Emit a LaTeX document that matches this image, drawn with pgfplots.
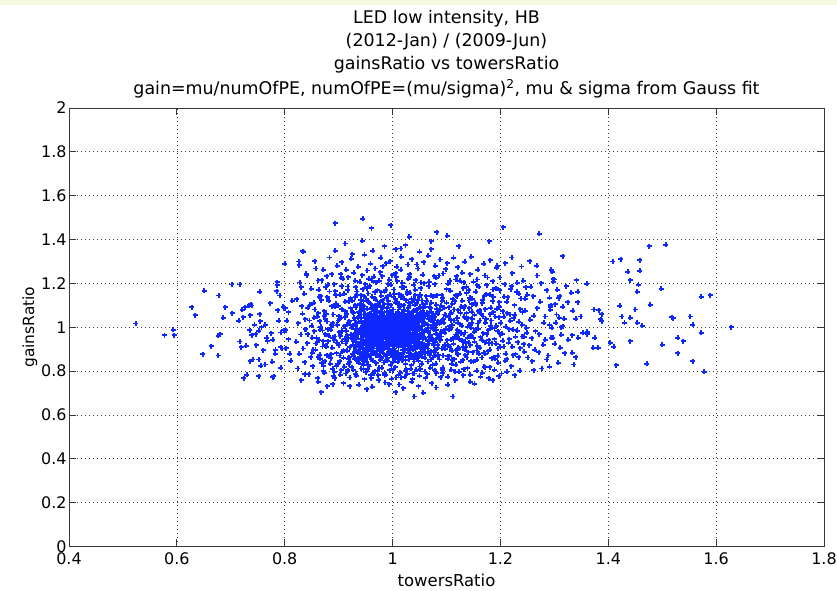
\documentclass[border=0pt]{standalone}
\usepackage{pgfplots}
\pgfplotsset{compat=1.18}
\usepackage{pgfplotstable}
\usepackage{fontspec}
\setmainfont{DejaVu Sans}
\definecolor{mblue}{RGB}{14,40,255}
\definecolor{topstrip}{RGB}{247,250,222}
\definecolor{axgray}{RGB}{55,55,55}

\pgfplotstableread{
x y
0.941 0.973
0.942 1.041
0.943 0.912
0.944 1.006
0.945 0.958
0.946 1.072
0.947 0.931
0.948 0.994
0.949 1.028
0.950 0.906
0.951 0.981
0.952 1.055
0.953 0.947
0.954 1.013
0.955 0.922
0.956 0.969
0.957 1.037
0.958 0.898
0.959 1.002
0.960 0.954
0.961 1.081
0.962 0.936
0.963 0.988
0.964 1.021
0.965 0.915
0.966 0.977
0.967 1.046
0.968 0.941
0.969 1.009
0.970 0.962
0.971 0.903
0.972 1.064
0.973 0.985
0.974 0.928
0.975 1.031
0.976 0.951
0.977 0.996
0.978 1.074
0.979 0.919
0.980 0.967
0.981 1.018
0.982 0.944
0.983 0.991
0.984 1.052
0.985 0.909
0.986 0.972
0.987 1.026
0.988 0.935
0.989 1.003
0.990 0.958
0.991 1.069
0.992 0.926
0.993 0.983
0.994 1.039
0.995 0.948
0.996 1.011
0.997 0.896
0.998 0.975
0.999 1.058
1.000 0.939
1.001 0.993
1.002 1.024
1.003 0.917
1.004 0.966
1.005 1.047
1.006 0.954
1.007 1.007
1.008 0.931
1.009 0.981
1.010 1.071
1.011 0.908
1.012 0.962
1.013 1.033
1.014 0.945
1.015 0.999
1.016 0.924
1.017 1.015
1.018 0.971
1.019 1.056
1.020 0.937
1.021 0.986
1.022 1.029
1.023 0.913
1.024 0.959
1.025 1.044
1.026 0.949
1.027 0.995
1.028 1.062
1.029 0.921
1.030 0.977
1.031 1.019
1.032 0.943
1.033 1.001
1.034 0.901
1.035 0.968
1.036 1.037
1.037 0.952
1.038 0.989
1.039 1.076
1.040 0.929
1.041 0.974
1.042 1.012
1.043 0.941
1.044 1.049
1.045 0.916
1.046 0.983
1.047 1.026
1.048 0.957
1.049 0.998
1.050 0.934
1.051 1.063
1.052 0.969
1.053 0.911
1.054 1.035
1.055 0.987
1.056 0.947
1.057 1.016
1.058 0.923
1.059 0.979
1.060 1.052
0.931 1.012
0.934 0.951
0.936 0.987
0.938 1.063
0.939 0.918
0.941 1.029
0.943 0.967
0.945 0.889
0.947 1.003
0.948 1.084
0.950 0.944
0.952 1.021
0.953 0.976
0.955 1.058
0.957 0.907
0.958 0.991
0.960 1.034
0.962 0.962
0.963 1.096
0.965 0.938
0.966 1.008
0.968 0.984
0.970 1.049
0.971 0.921
0.973 0.959
0.975 1.017
0.976 0.893
0.978 1.041
0.980 0.946
0.981 0.979
0.983 1.088
0.985 0.927
0.986 1.006
0.988 0.964
0.990 1.053
0.991 0.902
0.993 0.989
0.995 1.027
0.996 0.953
0.998 1.067
1.000 0.915
1.001 1.001
1.003 0.972
1.005 1.039
1.006 0.887
1.008 0.947
1.010 1.023
1.011 0.981
1.013 1.092
1.015 0.933
1.016 1.004
1.018 0.957
1.020 1.046
1.021 0.911
1.023 0.992
1.025 1.031
1.026 0.966
1.028 1.073
1.030 0.924
1.031 0.985
1.033 1.014
1.035 0.942
1.036 1.059
1.038 0.898
1.040 0.976
1.041 1.036
1.043 0.961
1.045 1.082
1.046 0.919
1.048 1.005
1.050 0.949
1.051 0.994
1.053 1.047
1.055 0.928
1.056 0.971
1.058 1.024
1.060 0.905
1.061 0.987
1.063 1.065
1.065 0.937
1.066 1.009
1.068 0.955
1.070 1.042
0.955 0.996
0.957 1.043
0.959 0.934
0.961 1.011
0.963 0.968
0.965 1.057
0.967 0.923
0.969 0.987
0.971 1.032
0.973 0.951
0.975 1.006
0.977 0.939
0.979 1.049
0.981 0.974
0.983 1.016
0.985 0.957
0.987 0.997
0.989 1.038
0.991 0.929
0.993 0.965
0.995 1.003
0.997 1.051
0.999 0.948
1.001 0.983
1.003 1.027
1.005 0.936
1.007 0.992
1.009 1.045
1.011 0.955
1.013 0.971
1.015 1.034
1.017 0.926
1.019 1.008
1.021 0.962
1.023 1.053
1.025 0.944
1.027 0.986
1.029 1.021
1.031 0.958
1.033 1.047
1.035 0.932
1.037 0.999
1.039 0.976
1.041 1.029
1.043 0.953
1.045 1.011
0.926 0.962
0.929 1.043
0.932 0.897
0.935 1.101
0.937 0.981
0.940 0.866
0.942 1.058
0.944 0.937
0.946 1.119
0.949 0.974
0.951 0.882
0.954 1.031
0.956 0.943
0.959 1.108
0.961 0.871
0.964 1.024
0.966 0.954
0.969 1.089
0.971 0.892
0.974 0.996
0.976 1.115
0.979 0.861
0.981 1.062
0.984 0.908
0.986 1.037
0.989 0.878
0.991 1.104
0.994 0.931
0.996 1.073
0.999 0.869
1.001 1.046
1.004 0.889
1.006 1.112
1.009 0.924
1.011 1.066
1.014 0.873
1.016 1.097
1.019 0.895
1.021 1.078
1.024 0.864
1.026 1.041
1.029 0.897
1.031 1.109
1.034 0.876
1.036 1.069
1.039 0.913
1.041 1.102
1.044 0.882
1.046 1.057
1.049 0.867
1.051 1.093
1.054 0.901
1.056 1.074
1.059 0.884
1.061 1.106
1.064 0.918
1.066 1.051
1.069 0.873
1.071 1.087
1.074 0.926
1.076 1.033
1.079 0.896
1.081 0.988
1.084 1.061
0.925 1.004
0.926 0.921
0.927 1.067
0.928 0.958
0.929 0.889
0.930 1.031
0.931 0.976
0.932 1.092
0.933 0.934
0.934 1.018
0.935 0.883
0.936 0.969
0.937 1.049
0.938 0.911
0.939 0.992
0.940 1.076
0.941 0.946
0.942 0.872
0.943 1.021
0.944 0.981
0.945 1.099
0.946 0.927
0.947 1.058
0.948 0.963
0.949 0.897
0.950 1.041
0.951 1.003
0.952 0.918
0.953 1.084
0.954 0.952
0.955 0.879
0.956 1.026
0.957 0.971
0.958 1.063
0.959 0.904
0.960 0.996
0.961 0.937
0.962 1.047
0.963 0.884
0.964 1.079
0.965 0.986
0.966 0.914
0.967 1.012
0.968 1.097
0.969 0.949
0.970 0.998
0.971 1.071
0.972 0.876
0.973 1.036
0.974 0.969
0.975 0.906
0.976 1.052
0.977 0.982
0.978 0.941
0.979 1.091
0.980 1.009
0.981 0.894
0.982 1.033
0.983 0.961
0.984 0.923
0.985 1.068
0.986 0.999
0.987 0.868
0.988 1.044
0.989 0.973
0.990 1.087
0.991 0.951
0.992 1.019
0.993 0.912
0.994 0.984
0.995 1.059
0.996 0.937
0.997 1.028
0.998 0.879
0.999 1.004
1.000 0.968
1.001 1.081
1.002 0.946
1.003 0.903
1.004 1.014
1.005 0.989
1.006 1.062
1.007 0.927
1.008 1.039
1.009 0.957
1.010 0.885
1.011 1.024
1.012 1.095
1.013 0.939
1.014 0.994
1.015 1.057
1.016 0.874
1.017 0.978
1.018 1.035
1.019 0.918
1.020 1.003
1.021 1.072
1.022 0.955
1.023 0.896
1.024 1.048
1.025 0.973
1.026 0.929
1.027 1.017
1.028 0.985
1.029 1.089
1.030 0.901
1.031 1.041
1.032 0.964
1.033 0.879
1.034 1.026
1.035 1.068
1.036 0.941
1.037 0.997
1.038 1.051
1.039 0.912
1.040 0.983
1.041 1.078
1.042 0.869
1.043 1.011
1.044 0.953
1.045 1.039
1.046 0.906
1.047 0.991
1.048 1.084
1.049 0.934
1.050 1.022
1.051 0.962
1.052 0.887
1.053 1.061
1.054 0.976
1.055 1.007
1.056 0.915
1.057 1.043
1.058 0.958
1.059 1.093
1.060 0.882
1.061 1.018
1.062 0.944
1.063 0.992
1.064 1.056
1.065 0.903
1.066 0.981
1.067 1.037
1.068 0.926
1.069 1.071
1.070 0.966
1.071 0.891
1.072 1.029
1.073 0.951
1.074 1.004
1.075 1.062
1.076 0.917
1.077 0.988
1.078 1.046
1.079 0.872
1.080 1.011
1.081 0.946
1.082 1.083
1.083 0.969
1.084 0.906
1.085 1.027
0.950 0.983
0.951 1.034
0.952 0.927
0.953 1.002
0.954 0.961
0.955 1.048
0.956 0.914
0.957 0.979
0.958 1.021
0.959 0.947
0.960 1.059
0.961 0.991
0.962 0.932
0.963 1.013
0.964 0.966
0.965 1.036
0.966 0.921
0.967 0.999
0.968 1.052
0.969 0.956
0.970 1.019
0.971 0.943
0.972 0.987
0.973 1.045
0.974 0.918
0.975 0.972
0.976 1.028
0.977 0.959
0.978 1.007
0.979 0.936
0.980 1.054
0.981 0.994
0.982 0.925
0.983 0.969
0.984 1.031
0.985 0.981
0.986 1.046
0.987 0.912
0.988 1.001
0.989 0.954
0.990 1.024
0.991 0.975
0.992 1.058
0.993 0.939
0.994 0.996
0.995 0.961
0.996 1.016
0.997 0.929
0.998 1.041
0.999 0.987
1.000 0.951
1.001 1.029
1.002 0.967
1.003 1.053
1.004 0.921
1.005 0.985
1.006 1.011
1.007 0.944
1.008 1.037
1.009 0.978
1.010 0.916
1.011 1.049
1.012 0.997
1.013 0.958
1.014 1.022
1.015 0.931
1.016 0.982
1.017 1.056
1.018 0.948
1.019 1.004
1.020 0.969
1.021 1.033
1.022 0.923
1.023 0.991
1.024 1.015
1.025 0.957
1.026 1.051
1.027 0.936
1.028 0.976
1.029 1.027
1.030 0.965
1.031 1.042
1.032 0.917
1.033 0.994
1.034 1.009
1.035 0.952
1.036 1.021
1.037 0.975
1.038 1.047
1.039 0.928
1.040 1.001
1.041 0.959
1.042 1.035
1.043 0.984
1.044 0.922
1.045 1.017
1.046 0.971
1.047 1.044
1.048 0.946
1.049 0.992
1.050 1.026
0.821 0.934
0.822 1.127
0.824 0.812
0.825 1.018
0.827 0.879
0.828 1.204
0.830 0.967
0.831 0.758
0.833 1.061
0.834 0.903
0.836 1.152
0.837 0.841
0.839 0.992
0.840 1.243
0.842 0.927
0.843 1.089
0.845 0.786
0.846 1.031
0.848 0.864
0.849 1.176
0.851 0.953
0.852 0.823
0.854 1.112
0.855 0.981
0.857 0.897
0.858 1.268
0.860 1.047
0.861 0.768
0.863 0.942
0.864 1.139
0.866 0.856
0.867 1.003
0.869 1.215
0.870 0.912
0.872 0.801
0.873 1.074
0.875 0.968
0.876 1.183
0.878 0.872
0.879 1.026
0.881 0.937
0.882 1.121
0.884 0.833
0.885 0.989
0.887 1.241
0.888 0.906
0.890 1.058
0.891 0.778
0.893 0.958
0.894 1.164
0.896 0.881
0.897 1.012
0.899 1.097
0.900 0.917
0.901 1.036
0.902 0.846
0.903 1.148
0.904 0.972
0.905 0.803
0.906 1.083
0.907 0.935
0.908 1.221
0.909 0.861
0.910 1.004
0.911 0.948
0.912 1.117
0.913 0.789
0.914 0.983
0.915 1.059
0.916 0.893
0.917 1.186
0.918 0.952
0.919 0.832
0.920 1.028
0.921 0.909
0.922 1.132
0.923 0.967
0.924 0.818
0.925 1.071
0.926 0.879
0.927 1.009
0.928 1.248
0.929 0.941
0.930 0.857
0.931 1.101
0.932 0.991
0.933 0.779
0.934 1.163
0.935 0.924
0.936 1.046
0.937 0.838
0.938 0.977
0.939 1.208
0.940 0.901
0.941 1.124
0.942 0.812
0.943 1.087
0.944 0.869
0.945 1.173
0.946 0.827
0.947 1.142
0.948 0.851
0.949 1.196
0.950 0.795
0.951 1.131
0.952 0.843
0.953 1.259
0.954 0.809
0.955 1.154
0.957 0.821
0.958 1.187
0.960 0.768
0.962 1.139
0.964 0.847
0.965 1.231
0.967 0.799
0.969 1.126
0.970 0.836
0.972 1.168
0.974 0.759
0.975 1.212
0.977 0.852
0.979 1.143
0.980 0.815
0.982 1.279
0.984 0.839
0.985 1.161
0.987 0.783
0.989 1.133
0.990 0.861
0.992 1.196
0.994 0.741
0.995 1.149
0.997 0.828
0.999 1.238
1.000 0.804
1.002 1.172
1.004 0.857
1.005 1.127
1.007 0.771
1.009 1.209
1.010 0.842
1.012 1.151
1.014 0.793
1.015 1.263
1.017 0.849
1.019 1.138
1.020 0.722
1.022 1.182
1.024 0.831
1.025 1.124
1.027 0.787
1.029 1.221
1.030 0.853
1.032 1.157
1.034 0.811
1.035 1.129
1.037 0.762
1.039 1.194
1.040 0.844
1.042 1.146
1.044 0.806
1.045 1.286
1.047 0.859
1.049 1.137
1.050 0.778
1.052 1.178
1.054 0.833
1.055 1.122
1.057 0.702
1.059 1.201
1.071 0.946
1.072 1.143
1.074 0.828
1.075 1.012
1.077 0.889
1.078 1.197
1.080 0.971
1.081 0.791
1.083 1.068
1.084 0.917
1.086 1.236
1.087 0.853
1.089 1.024
1.090 0.958
1.092 1.121
1.093 0.816
1.095 0.987
1.096 1.089
1.098 0.902
1.099 1.264
1.101 0.941
1.102 0.774
1.104 1.047
1.105 0.868
1.107 1.166
1.108 0.993
1.110 0.833
1.111 1.108
1.113 0.925
1.114 1.031
1.116 0.796
1.117 1.218
1.119 0.964
1.120 0.879
1.122 1.077
1.123 0.947
1.125 1.152
1.126 0.842
1.128 1.006
1.129 1.249
1.131 0.911
1.132 0.809
1.134 1.095
1.135 0.976
1.137 1.184
1.138 0.862
1.140 1.041
1.141 0.929
1.143 1.134
1.144 0.783
1.146 0.998
1.147 1.071
1.149 0.887
1.150 1.207
1.072 0.998
1.076 1.053
1.079 0.934
1.082 1.018
1.085 0.962
1.088 1.079
1.091 0.903
1.094 1.036
1.097 0.975
1.100 1.112
1.103 0.918
1.106 1.004
1.109 1.066
1.112 0.949
1.115 1.118
1.118 0.896
1.121 1.021
1.124 0.982
1.127 1.093
1.130 0.937
1.133 1.048
1.136 0.911
1.139 1.002
1.142 1.087
1.145 0.956
1.148 1.129
1.152 0.934
1.154 1.103
1.156 0.852
1.158 1.017
1.160 1.184
1.162 0.906
1.164 1.061
1.166 0.793
1.168 0.972
1.170 1.142
1.172 0.879
1.174 1.036
1.176 1.227
1.178 0.941
1.180 0.818
1.182 1.088
1.184 0.997
1.186 1.172
1.188 0.863
1.190 1.049
1.192 0.924
1.194 1.281
1.196 0.837
1.198 1.115
1.200 0.968
1.202 0.789
1.204 1.073
1.206 0.912
1.208 1.196
1.210 1.003
1.212 0.854
1.214 1.136
1.216 0.946
1.218 1.058
1.220 0.823
1.222 1.247
1.224 0.989
1.226 1.101
1.228 0.876
1.230 1.162
1.232 0.932
1.234 1.024
1.236 0.801
1.238 1.131
1.240 0.958
1.242 1.212
1.244 0.889
1.246 1.076
1.248 0.997
1.250 1.148
1.253 0.917
1.256 1.184
1.259 0.846
1.262 1.053
1.265 0.981
1.268 1.236
1.271 0.887
1.274 1.117
1.277 0.812
1.280 1.021
1.283 0.943
1.286 1.168
1.289 0.871
1.292 1.079
1.295 0.998
1.298 1.208
1.301 0.924
1.304 1.058
1.307 0.837
1.310 1.141
1.313 0.966
1.316 1.093
1.319 0.882
1.322 1.187
0.860 0.931
0.862 1.064
0.865 0.874
0.867 1.142
0.870 0.985
0.872 0.823
0.875 1.037
0.877 0.911
0.880 1.193
0.882 0.962
0.885 0.858
0.887 1.096
0.890 1.008
0.892 0.797
0.895 1.147
0.897 0.929
0.900 1.051
0.902 0.871
0.905 1.226
0.907 0.984
0.910 0.819
0.912 1.074
0.915 0.938
0.917 1.168
0.920 0.863
0.922 1.011
0.925 1.121
0.927 0.807
0.930 0.956
0.932 1.183
0.935 0.846
0.937 1.069
0.940 0.926
0.942 1.147
0.945 0.834
0.947 1.095
0.950 0.861
0.952 1.177
0.955 0.826
0.957 1.112
0.960 0.853
0.962 1.213
0.965 0.791
0.967 1.159
0.970 0.872
0.972 1.107
0.975 0.816
0.977 1.251
0.980 0.858
0.982 1.124
0.985 0.781
0.987 1.171
0.990 0.847
0.992 1.119
0.995 0.805
0.997 1.194
1.000 0.862
1.002 1.136
1.005 0.818
1.007 1.228
1.010 0.866
1.012 1.108
1.015 0.771
1.017 1.182
1.020 0.852
1.022 1.129
1.025 0.809
1.027 1.153
1.030 0.869
1.032 1.241
1.035 0.827
1.037 1.116
1.040 0.789
1.042 1.171
1.045 0.856
1.047 1.123
1.050 0.821
1.052 1.204
1.055 0.865
1.057 1.106
1.060 0.798
1.062 1.142
1.065 0.844
1.067 1.187
1.070 0.816
1.072 1.111
1.075 0.862
1.077 1.233
1.080 0.833
1.082 1.146
1.085 0.874
1.087 0.962
1.090 1.098
1.092 0.806
1.095 1.021
1.097 0.921
1.100 1.174
1.102 0.857
1.105 0.989
1.107 1.061
1.110 0.892
1.112 1.127
1.115 0.951
1.117 0.828
1.120 1.043
1.122 0.907
1.125 1.212
1.127 0.973
1.130 0.849
1.132 1.086
1.135 0.934
1.137 1.156
1.140 0.887
1.142 1.012
1.145 0.963
1.147 1.104
1.150 0.842
1.152 1.057
1.155 0.991
1.157 1.191
1.160 0.879
1.162 1.031
1.165 0.943
1.167 1.126
1.170 0.819
1.172 1.083
1.175 0.968
1.177 0.891
1.180 1.149
1.182 1.006
1.185 0.926
1.187 1.068
1.190 0.857
1.192 1.177
1.195 0.982
1.197 1.045
1.200 0.911
0.850 1.006
0.853 0.898
0.856 1.081
0.859 0.952
0.862 0.863
0.865 1.028
0.868 1.124
0.871 0.937
0.874 0.845
0.877 1.059
0.880 0.991
0.883 1.163
0.886 0.876
0.889 1.019
0.892 0.941
0.895 1.107
0.898 0.831
0.901 0.977
0.904 1.043
0.907 0.889
0.910 1.153
0.913 0.926
0.916 1.012
0.919 0.854
0.922 1.087
0.925 0.946
0.928 0.868
0.931 1.136
0.934 0.993
0.937 0.884
0.940 1.104
0.943 0.852
0.946 0.999
0.949 1.061
0.952 0.874
0.955 1.117
0.958 0.866
0.961 1.088
0.964 0.889
0.967 1.131
0.970 0.878
0.973 1.098
0.976 0.866
0.979 1.159
0.982 0.884
0.985 1.106
0.988 0.853
0.991 1.142
0.994 0.879
0.997 1.101
1.000 0.843
1.003 1.153
1.006 0.872
1.009 1.114
1.012 0.861
1.015 1.137
1.018 0.877
1.021 1.101
1.024 0.849
1.027 1.162
1.030 0.882
1.033 1.099
1.036 0.861
1.039 1.131
1.042 0.876
1.045 1.109
1.048 0.848
1.051 1.149
1.054 0.884
1.057 1.088
1.060 0.861
1.063 1.121
1.066 0.889
1.069 1.094
1.072 0.853
1.075 1.139
1.078 0.941
1.081 1.102
1.084 0.868
1.087 1.016
1.090 0.979
1.093 1.132
1.096 0.914
1.099 1.053
1.102 0.867
1.105 1.091
1.108 0.943
1.111 1.009
1.114 0.855
1.117 1.147
1.120 0.986
1.123 0.901
1.126 1.063
1.129 1.121
1.132 0.969
1.135 0.873
1.138 1.037
1.141 1.168
1.144 0.919
1.147 1.019
1.150 0.953
1.153 1.112
1.156 0.894
1.159 0.993
1.162 1.078
1.165 0.862
1.168 1.049
1.171 0.931
1.174 1.151
1.177 0.987
1.180 0.897
1.183 1.031
1.186 1.118
1.189 0.946
1.192 1.007
1.195 0.869
1.198 1.092
1.201 1.021
1.204 0.939
1.207 1.139
1.210 0.878
1.213 1.064
1.216 0.992
1.219 1.174
1.222 0.911
1.225 1.041
1.228 0.957
1.231 1.203
1.234 0.864
1.237 1.083
1.240 1.012
1.243 0.923
1.246 1.129
1.249 0.974
0.856 1.301
0.871 1.262
0.883 1.318
0.897 1.281
0.906 1.297
0.914 1.263
0.923 1.312
0.936 1.276
0.948 1.331
0.959 1.289
0.968 1.268
0.978 1.317
0.988 1.291
0.996 1.301
1.008 1.275
1.016 1.322
1.028 1.286
1.036 1.311
1.047 1.268
1.058 1.297
1.066 1.327
1.079 1.281
1.088 1.309
1.101 1.292
1.113 1.316
1.121 1.274
1.134 1.298
1.146 1.321
1.158 1.263
1.169 1.289
1.181 1.306
1.193 1.271
1.209 1.292
1.221 1.318
1.239 1.277
1.254 1.301
1.267 1.281
0.944 1.394
1.031 1.412
1.101 1.418
1.179 1.392
0.912 1.382
1.082 1.433
0.862 0.752
0.879 0.731
0.893 0.768
0.909 0.744
0.921 0.771
0.937 0.737
0.948 0.762
0.962 0.729
0.973 0.781
0.986 0.748
0.998 0.766
1.012 0.739
1.023 0.774
1.036 0.752
1.048 0.731
1.061 0.768
1.073 0.745
1.089 0.772
1.102 0.738
1.116 0.759
1.131 0.781
1.144 0.752
1.163 0.774
1.178 0.768
1.197 0.776
1.212 0.797
0.843 0.968
0.847 1.102
0.851 0.884
0.855 1.044
0.858 0.926
0.863 1.171
0.866 0.989
0.869 0.836
0.873 1.053
0.876 0.917
0.879 1.137
0.883 0.867
0.886 1.011
0.889 0.953
0.893 1.093
0.896 0.823
0.899 1.031
0.903 0.959
0.906 1.187
0.909 0.896
0.912 1.046
0.916 0.963
0.919 1.118
0.921 0.841
0.924 0.998
0.927 1.067
0.929 0.913
0.933 1.146
0.936 0.859
1.088 0.941
1.091 1.147
1.094 0.871
1.097 1.058
1.099 0.994
1.103 1.199
1.106 0.908
1.108 1.033
1.111 0.852
1.114 1.081
1.117 0.967
1.119 1.141
1.122 0.876
1.125 1.013
1.128 0.938
1.131 1.179
1.134 0.897
1.137 1.064
1.139 0.951
1.142 1.122
1.145 0.846
1.148 1.038
1.151 0.979
1.154 1.161
1.157 0.916
1.159 1.074
1.163 0.954
1.166 1.109
1.169 0.884
1.172 1.021
1.175 1.191
1.178 0.928
1.181 1.059
1.184 0.859
1.187 1.138
1.189 0.996
1.193 1.084
1.196 0.903
1.199 1.168
1.203 0.971
1.206 1.048
1.209 0.847
1.212 1.116
1.215 0.929
1.218 1.029
1.221 1.188
1.224 0.872
1.227 1.057
1.231 0.983
1.234 1.152
1.237 0.904
1.241 1.069
1.244 0.956
1.247 1.183
1.251 0.862
1.255 1.034
1.258 0.949
1.261 1.141
1.264 0.897
1.268 1.087
1.272 0.968
1.276 1.201
1.279 0.921
1.283 1.049
1.286 0.853
1.291 1.012
1.297 0.952
1.302 1.106
1.311 0.907
1.318 1.039
1.326 0.942
1.334 1.076
0.862 1.213
0.878 1.232
0.892 1.196
0.904 1.241
0.918 1.228
0.931 1.211
0.944 1.238
0.956 1.222
0.969 1.206
0.981 1.233
0.994 1.217
1.006 1.246
1.018 1.203
1.031 1.229
1.043 1.214
1.056 1.239
1.068 1.208
1.081 1.226
1.094 1.245
1.106 1.212
1.119 1.232
1.132 1.205
1.144 1.241
1.157 1.218
1.171 1.236
1.186 1.209
1.199 1.227
0.873 0.792
0.889 0.811
0.903 0.784
0.917 0.803
0.932 0.787
0.946 0.808
0.959 0.781
0.972 0.802
0.985 0.793
0.998 0.812
1.011 0.783
1.024 0.801
1.037 0.789
1.051 0.808
1.064 0.786
1.078 0.803
1.093 0.791
1.109 0.806
1.124 0.796
1.139 0.813
1.156 0.801
1.171 0.818
1.189 0.807
0.524 1.017
0.577 0.963
0.593 0.989
0.595 0.963
0.628 1.092
0.634 1.054
0.648 0.877
0.651 1.166
0.664 0.914
0.677 0.871
0.677 0.962
0.680 0.968
0.678 1.145
0.686 1.043
0.690 1.092
0.702 1.195
0.703 1.064
0.717 1.195
0.715 1.029
0.717 0.935
0.719 0.908
0.721 1.080
0.723 1.045
0.724 0.767
0.727 1.091
0.729 0.916
0.730 0.784
0.734 1.101
0.737 1.106
0.739 1.099
0.735 0.986
0.736 1.054
0.736 0.845
0.739 0.963
0.741 0.853
0.744 1.011
0.746 0.969
0.747 0.918
0.752 0.776
0.754 1.162
0.754 1.060
0.755 1.028
0.752 0.983
0.752 0.853
0.756 0.825
0.757 1.001
0.760 0.896
0.764 1.011
0.764 0.830
0.767 0.953
0.768 0.936
0.773 1.109
0.775 0.972
0.778 0.772
0.780 0.776
0.777 0.842
0.778 0.942
0.782 0.879
0.783 0.898
0.785 1.164
0.786 1.206
0.786 1.192
0.787 1.077
0.789 1.029
0.791 1.145
0.793 0.908
0.795 0.903
0.793 0.976
0.793 0.815
0.797 1.094
0.799 1.086
0.801 1.086
0.798 0.986
0.802 0.987
0.800 1.290
0.803 0.905
0.804 1.029
0.807 0.945
0.809 0.879
0.807 1.068
0.814 1.121
0.811 0.848
0.826 1.300
0.827 1.282
0.831 1.183
0.832 1.095
0.833 1.347
0.841 1.238
0.838 1.037
0.838 0.990
0.837 0.786
1.316 1.323
1.296 1.253
1.294 1.262
1.298 1.220
1.300 1.218
1.291 1.135
1.293 1.100
1.292 1.094
1.305 1.171
1.308 1.133
1.309 1.043
1.303 1.021
1.313 1.000
1.316 1.005
1.294 0.953
1.291 0.819
1.325 1.114
1.331 1.158
1.343 1.162
1.341 1.215
1.343 1.114
1.340 1.038
1.349 1.049
1.333 0.963
1.344 0.953
1.333 0.884
1.340 0.863
1.336 0.830
1.353 0.974
1.361 0.980
1.361 0.968
1.360 1.199
1.373 1.081
1.382 1.077
1.388 1.060
1.386 1.036
1.388 1.027
1.375 0.953
1.372 0.906
1.381 0.906
1.404 0.930
1.410 0.910
1.415 0.826
1.408 1.300
1.423 1.311
1.436 1.253
1.441 1.215
1.458 1.305
1.458 1.258
1.456 1.193
1.454 1.161
1.421 1.097
1.425 1.049
1.430 1.021
1.441 1.043
1.450 1.081
1.454 1.021
1.463 1.006
1.441 0.936
1.471 0.834
1.476 1.369
1.507 1.376
1.478 1.102
1.498 1.176
1.500 0.920
1.518 1.046
1.520 1.042
1.529 0.953
1.529 0.882
1.539 0.936
1.552 1.049
1.557 1.011
1.557 0.845
1.572 1.139
1.589 1.146
1.572 0.974
1.578 0.796
1.628 1.000
0.894 1.475
0.945 1.495
0.961 1.452
0.997 1.465
1.205 1.457
1.272 1.427
0.834 1.345
0.894 1.349
0.925 1.333
0.963 1.349
0.985 1.370
1.006 1.355
1.015 1.359
1.024 1.374
1.050 1.345
1.072 1.393
1.072 1.355
1.123 1.370
0.868 0.703
1.112 0.684
1.040 0.684
1.006 0.703
0.921 0.731
0.952 0.718
1.081 0.725
1.152 0.742
1.186 0.758
1.262 0.803
1.227 0.781
0.889 0.741
}\pts

\begin{document}
\begin{tikzpicture}
\fill[white] (-69bp,-44.5bp) rectangle (768bp,546.5bp);
\fill[topstrip] (-69bp,541.5bp) rectangle (768bp,546.5bp);
\begin{axis}[
  name=ax, at={(0,0)}, anchor=south west,
  scale only axis, width=755bp, height=438.5bp,
  xmin=0.4, xmax=1.8, ymin=0, ymax=2,
  xtick={0.4,0.6,0.8,1,1.2,1.4,1.6,1.8},
  ytick={0,0.2,0.4,0.6,0.8,1,1.2,1.4,1.6,1.8,2},
  tick align=inside, major tick length=7bp,
  xtick pos=both, ytick pos=both,
  grid=major,
  major grid style={axgray, line width=0.7bp, dash pattern=on 1bp off 3bp},
  axis line style={axgray, line width=0.8bp},
  tick style={axgray, line width=0.8bp},
  /pgf/number format/assume math mode=true,
  ticklabel style={font=\fontsize{16}{19}\selectfont, text=black},
  xticklabel style={yshift=-3bp},
  yticklabel style={xshift=1bp},
  every axis x label/.style={at={(axis description cs:0.5,-0.0775)}, anchor=center, font=\fontsize{16.5}{20}\selectfont},
  every axis y label/.style={at={(axis description cs:-0.0517,0.5)}, rotate=90, anchor=center, font=\fontsize{15.5}{19}\selectfont},
  xlabel={towersRatio},
  ylabel={gainsRatio},
]
\addplot[only marks, mark=+, mark size=2.5bp, color=mblue, mark options={line width=1.9bp}] table[x=x, y=y] {\pts};
\end{axis}
\begin{scope}[every node/.style={font=\fontsize{17.5}{21}\selectfont, inner sep=0pt}]
\node at ([yshift=89bp]ax.north) {LED low intensity, HB};
\node at ([yshift=66bp]ax.north) {(2012-Jan) / (2009-Jun)};
\node at ([yshift=43bp]ax.north) {gainsRatio vs towersRatio};
\node at ([yshift=19bp]ax.north) {gain=mu/numOfPE, numOfPE=(mu/sigma)\textsuperscript{2}, mu \& sigma from Gauss fit};
\end{scope}
\pgfresetboundingbox
\path (-69bp,-44.5bp) rectangle (768bp,546.5bp);
\end{tikzpicture}
\end{document}
